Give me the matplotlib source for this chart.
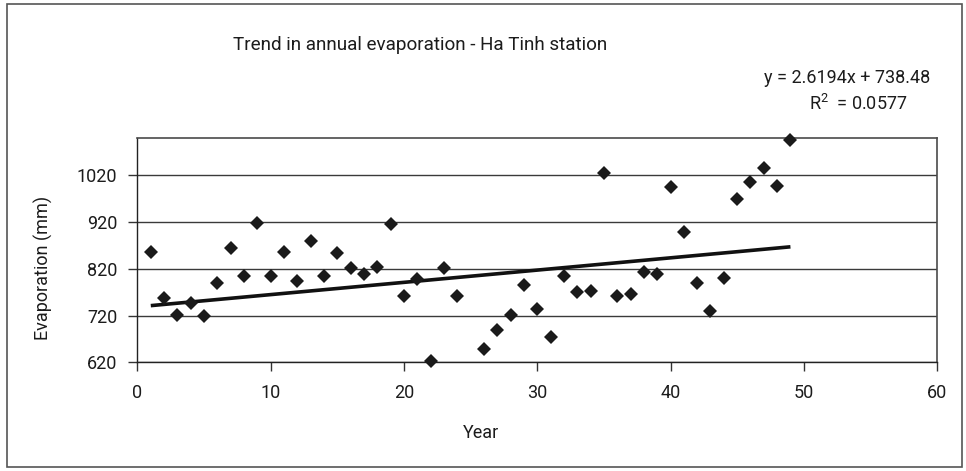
import matplotlib
matplotlib.use('Agg')
import matplotlib.pyplot as plt
from matplotlib.patches import Rectangle

plt.rcParams['font.family'] = ['Roboto', 'DejaVu Sans']
plt.rcParams['mathtext.fontset'] = 'custom'
plt.rcParams['mathtext.rm'] = 'Roboto'

# annual evaporation, Ha Tinh station (year 25 has no record)
years = [1, 2, 3, 4, 5, 6, 7, 8, 9, 10,
         11, 12, 13, 14, 15, 16, 17, 18, 19, 20,
         21, 22, 23, 24, 26, 27, 28, 29, 30,
         31, 32, 33, 34, 35, 36, 37, 38, 39, 40,
         41, 42, 43, 44, 45, 46, 47, 48, 49]
evaporation = [856, 758, 721, 746, 718, 789, 864, 804, 918, 804,
               856, 794, 879, 804, 853, 821, 809, 824, 915, 762,
               797, 623, 821, 762, 648, 690, 721, 785, 734,
               675, 804, 770, 773, 1025, 762, 765, 814, 809, 994,
               899, 789, 730, 801, 970, 1006, 1035, 997, 1096]

# linear trend
slope = 2.6194
intercept = 738.48
r_squared = 0.0577

x_ticks = [0, 10, 20, 30, 40, 50, 60]
y_ticks = [620, 720, 820, 920, 1020]

text_color = '#1c1c1c'

fig = plt.figure(figsize=(9.66, 4.71), dpi=100)
ax = fig.add_axes([0.1423, 0.2308, 0.8277, 0.4768])

for y in y_ticks:
    ax.axhline(y, color='#3a3a3a', linewidth=1.0, zorder=1)

ax.plot(years, evaporation, linestyle='none', marker='D', markersize=7.2,
        color='#1a1a1a', markeredgewidth=0, zorder=3, clip_on=False)

x_fit = [years[0], years[-1]]
y_fit = [slope * x + intercept for x in x_fit]
ax.plot(x_fit, y_fit, color='#111111', linewidth=2.6, zorder=2,
        solid_capstyle='butt')

ax.set_xlim(0, 60)
ax.set_ylim(620, 1100)
ax.set_xticks(x_ticks)
ax.set_yticks(y_ticks)
ax.tick_params(axis='both', direction='out', length=6.5, width=1.0,
               color='#333333', labelsize=13, labelcolor=text_color)
ax.tick_params(axis='x', pad=9)
ax.tick_params(axis='y', pad=8)

for side in ('left', 'bottom'):
    ax.spines[side].set_color('#222222')
    ax.spines[side].set_linewidth(1.0)
for side in ('top', 'right'):
    ax.spines[side].set_color('#4a4a4a')
    ax.spines[side].set_linewidth(1.2)

fig.text(0.4348, 0.9045, 'Trend in annual evaporation - Ha Tinh station',
         ha='center', va='center', fontsize=13.6, color=text_color)
fig.text(0.8768, 0.8344, f'y = {slope}x + {intercept}',
         ha='center', va='center', fontsize=13, color=text_color)
fig.text(0.888, 0.779, f'R$^{{2}}$  = {r_squared}',
         ha='center', va='center', fontsize=13, color=text_color)
fig.text(0.498, 0.0807, 'Year', ha='center', va='center',
         fontsize=13, color=text_color)
fig.text(0.0445, 0.431, 'Evaporation (mm)', ha='center', va='center',
         rotation=90, fontsize=13, color=text_color)

# outer chart frame
fig.patches.append(Rectangle((7 / 966, 4 / 471), 955 / 966, 463 / 471,
                             transform=fig.transFigure, fill=False,
                             edgecolor='#555555', linewidth=1.2))

fig.savefig('out.png', dpi=100)
